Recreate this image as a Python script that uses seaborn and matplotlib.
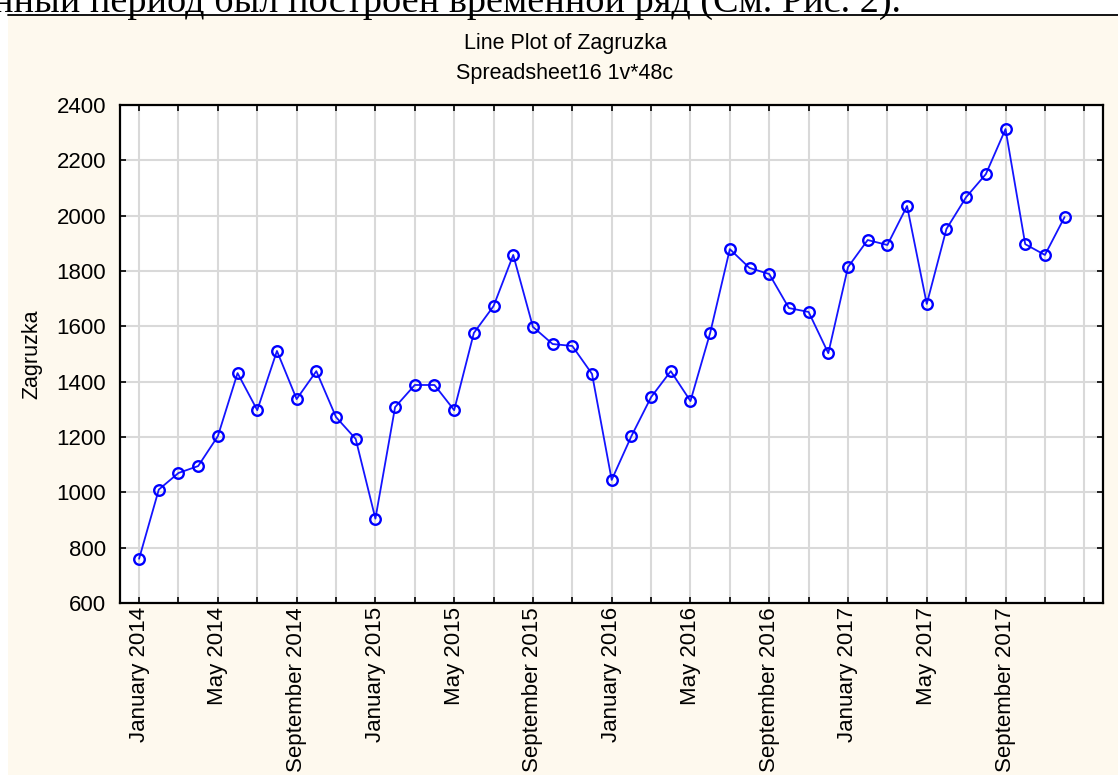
import numpy as np
import pandas as pd
import seaborn as sns
from matplotlib import pyplot as plt
from matplotlib.patches import Rectangle
from matplotlib.lines import Line2D

# monthly values, January 2014 .. December 2017
zagruzka = [
    760, 1010, 1070, 1095, 1203, 1431, 1297, 1511, 1337, 1438, 1272, 1193,
    905, 1308, 1388, 1388, 1297, 1576, 1673, 1858, 1598, 1536, 1529, 1428,
    1045, 1203, 1344, 1438, 1330, 1576, 1879, 1811, 1789, 1666, 1652, 1503,
    1814, 1912, 1894, 2035, 1681, 1952, 2067, 2150, 2313, 1897, 1858, 1995,
]
months = pd.date_range('2014-01-01', periods=49, freq='MS')
tick_labels = [d.strftime('%B %Y') if i % 4 == 0 and i < 48 else '' for i, d in enumerate(months)]
y_ticks = [600, 800, 1000, 1200, 1400, 1600, 1800, 2000, 2200, 2400]

title = 'Line Plot of Zagruzka'
subtitle = 'Spreadsheet16 1v*48c'
caption = 'нный период был построен временной ряд (См. Рис. 2).'

sns.set_style('white')
plt.rcParams['font.family'] = ['Liberation Sans', 'DejaVu Sans']
plt.rcParams['text.color'] = 'black'
plt.rcParams['axes.labelcolor'] = 'black'
plt.rcParams['xtick.color'] = 'black'
plt.rcParams['ytick.color'] = 'black'

df = pd.DataFrame({'idx': np.arange(len(zagruzka)), 'Zagruzka': zagruzka})

fig = plt.figure(figsize=(11.18, 7.75), dpi=100)
fig.patch.set_facecolor('white')

# beige panel and the document line above it
fig.patches.append(Rectangle((8 / 1118, 0), 1, 1 - 16 / 775, transform=fig.transFigure,
                             facecolor='#fef9ee', edgecolor='none', zorder=-5))
fig.lines.append(Line2D([8 / 1118, 1], [1 - 15 / 775] * 2, transform=fig.transFigure,
                        color='black', lw=1.3, zorder=-4))
fig.text(-0.006, 1 - 12 / 775, caption, family='Liberation Serif', fontsize=27.5,
         ha='left', va='baseline', color='black')

ax = fig.add_axes([120 / 1118, 1 - 603 / 775, (1103 - 120) / 1118, (603 - 105) / 775])
ax.set_facecolor('white')

sns.lineplot(data=df, x='idx', y='Zagruzka', ax=ax, color='#1414ff', lw=1.3,
             marker='o', markersize=7.6, markerfacecolor='none',
             markeredgecolor='#0000ff', markeredgewidth=1.7, zorder=3)

ax.set_xlim(-0.97, 48.95)
ax.set_ylim(600, 2400)
ax.set_xticks(np.arange(0, 49, 2))
ax.set_xticklabels(tick_labels[::2], rotation=90, fontsize=16)
ax.set_yticks(y_ticks)
ax.set_yticklabels([str(v) for v in y_ticks], fontsize=16)
ax.tick_params(direction='in', length=4, width=1.2, color='black',
               top=True, right=True, bottom=True, left=True)
ax.tick_params(axis='x', pad=3)
ax.tick_params(axis='y', pad=10)
ax.grid(True, color='#d9d9d9', lw=1.5, zorder=0)
for s in ax.spines.values():
    s.set_color('black')
    s.set_linewidth(1.6)

ax.set_xlabel('')
ax.set_ylabel('Zagruzka', fontsize=15.5, labelpad=10)

fig.text(565 / 1118, 1 - 44 / 775, title, ha='center', va='center', fontsize=15.5)
fig.text(565 / 1118, 1 - 74 / 775, subtitle, ha='center', va='center', fontsize=15.5)

fig.savefig('out.png', dpi=100)
